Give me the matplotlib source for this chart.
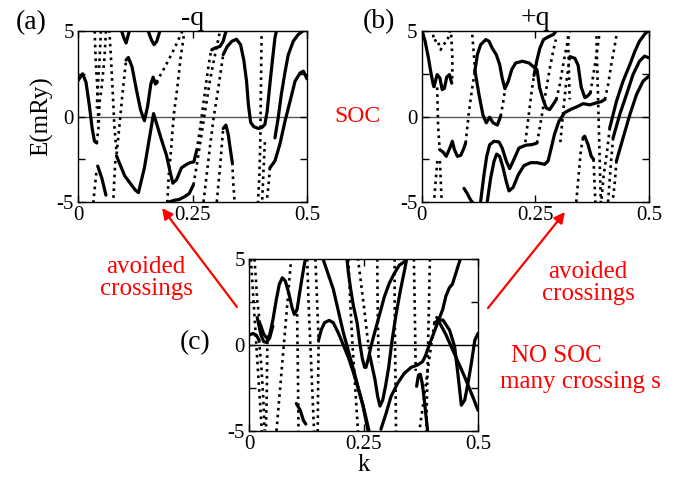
import matplotlib.pyplot as plt
from matplotlib.patches import FancyArrowPatch

plt.rcParams['font.family'] = ['Liberation Serif', 'DejaVu Serif']

W, H = 689, 478

# band traces, (k, E in mRy)
# panel (a): -q, with SOC
a_solid = [
    [(0, 2.1), (0.010, 2.5), (0.0175, 2.0), (0.025, 0.6), (0.031, -0.7), (0.036, -1.45), (0.041, -1.55)],
    [(0.043, -2.9), (0.052, -3.6), (0.061, -4.6)],
    [(0.094, 5.1), (0.100, 4.6), (0.105, 4.3), (0.110, 4.8), (0.113, 5.1)],
    [(0.105, 3.3), (0.110, 3.45), (0.118, 2.9), (0.128, 1.5), (0.137, 0.35), (0.145, -0.25), (0.152, 0.6),
     (0.159, 1.9), (0.164, 2.3), (0.169, 1.9), (0.173, 2.0)],
    [(0.152, 5.1), (0.160, 4.5), (0.166, 4.2), (0.172, 4.4), (0.180, 5.1)],
    [(0.084, -2.3), (0.102, -3.47), (0.125, -4.3), (0.132, -4.45), (0.145, -3.0), (0.156, -1.25), (0.165, 0.17),
     (0.172, -0.45), (0.181, -1.25), (0.188, -1.84), (0.193, -2.24), (0.200, -3.1), (0.207, -3.9), (0.215, -3.7),
     (0.226, -3.0), (0.237, -2.8), (0.2445, -2.7), (0.253, -2.65), (0.259, -2.0)],
    [(0.292, 3.9), (0.299, 4.0), (0.31, 4.1), (0.317, 4.4), (0.321, 4.8), (0.325, 5.1)],
    [(0.199, -5.0), (0.210, -4.9), (0.221, -4.85), (0.232, -4.7), (0.243, -4.5), (0.252, -4.0)],
    [(0.317, 3.62), (0.326, 4.1), (0.336, 4.4), (0.346, 4.52), (0.355, 4.2), (0.362, 3.3), (0.368, 2.07),
     (0.372, 0.7), (0.377, -0.35), (0.384, -0.6), (0.394, -0.7), (0.401, -0.65), (0.408, -0.47), (0.413, 0.3),
     (0.419, 1.9), (0.425, 3.4), (0.430, 4.6), (0.434, 5.1)],
    [(0.430, -1.25), (0.437, -0.1), (0.444, 1.3), (0.452, 2.6), (0.459, 3.6), (0.470, 4.4), (0.481, 4.8), (0.496, 5.1)],
    [(0.419, -3.0), (0.430, -2.6), (0.441, -1.6), (0.452, -0.27), (0.463, 0.89), (0.474, 2.07), (0.485, 2.55),
     (0.492, 2.65), (0.5, 2.2)],
    [(0.317, -0.7), (0.323, -0.5), (0.328, -1.05), (0.333, -2.0), (0.337, -2.7)],
]
a_dotted = [
    [(0.0364, 5.0), (0.0386, 3.3), (0.042, 1.8), (0.044, 0.2), (0.044, -0.6)],
    [(0.050, 5.0), (0.047, 3.3), (0.043, 1.6), (0.041, 0.5)],
    [(0.061, 5.0), (0.058, 3.5), (0.052, 1.8), (0.047, 0.8), (0.045, -0.6), (0.041, -1.5)],
    [(0.0684, 5.05), (0.072, 3.42), (0.0757, 1.5), (0.0793, -0.5), (0.0844, -2.2)],
    [(0.0844, -2.2), (0.090, -0.67), (0.097, 1.3), (0.105, 3.3)],
    [(0.0815, -2.6), (0.079, -3.8), (0.077, -5.0)],
    [(0.040, -3.3), (0.0365, -4.2), (0.0335, -5.0)],
    [(0.233, 5.1), (0.224, 3.4), (0.216, 1.5), (0.210, 0.3), (0.207, -0.6), (0.203, -2), (0.198, -3.5), (0.195, -5)],
    [(0.171, 2.0), (0.19, 2.9), (0.21, 3.95), (0.228, 5.0)],
    [(0.259, -2.0), (0.266, -0.8), (0.274, 0.8), (0.281, 2.2), (0.288, 3.5), (0.292, 3.9)],
    [(0.252, -4.0), (0.259, -2.9), (0.266, -1.7), (0.274, -0.3), (0.281, 0.9), (0.288, 2.1), (0.296, 3.2),
     (0.303, 4.1), (0.31, 5.0)],
    [(0.274, -5.0), (0.281, -3.4), (0.288, -1.8), (0.296, -0.1), (0.306, 1.6), (0.317, 3.62)],
    [(0.303, -5), (0.31, -3), (0.317, -0.7)],
    [(0.337, -2.7), (0.339, -3.9), (0.342, -5)],
    [(0.401, 5.1), (0.400, 2.9), (0.399, 0.9), (0.398, -1.5), (0.396, -3.5), (0.393, -5)],
    [(0.408, -1.5), (0.405, -3.2), (0.402, -5)],
    [(0.419, -3.0), (0.416, -4), (0.412, -5)],
]

# panel (b): +q, with SOC
b_solid = [
    [(0, 5.1), (0.0075, 4.4), (0.015, 3.4), (0.020, 2.6), (0.025, 1.9), (0.027, 1.75)],
    [(0.027, 1.75), (0.034, 2.45), (0.040, 2.25), (0.045, 1.57), (0.050, 1.65), (0.055, 2.3), (0.061, 2.45), (0.066, 1.95)],
    [(0.0395, -1.94), (0.047, -2.08), (0.054, -2.33), (0.062, -1.84), (0.0673, -1.45), (0.072, -1.94), (0.0785, -2.33),
     (0.086, -2.27), (0.093, -1.84), (0.0967, -1.55)],
    [(0.117, 2.65), (0.1224, 3.62), (0.1297, 4.2), (0.141, 4.5), (0.148, 4.4), (0.155, 4.0), (0.164, 3.62), (0.1715, 3.04),
     (0.177, 2.25), (0.183, 1.63), (0.1906, 2.07), (0.198, 2.74), (0.2067, 3.13), (0.2214, 3.23), (0.236, 3.13),
     (0.247, 2.88), (0.2536, 2.74), (0.2595, 1.67), (0.267, 0.99), (0.274, 0.5), (0.2815, 0.4), (0.289, 0.7), (0.296, 0.99)],
    [(0.1173, 2.65), (0.126, 1.28), (0.1348, 0.08), (0.142, -0.37), (0.1495, -0.04), (0.157, -0.37), (0.1664, -0.5),
     (0.1737, 0.02)],
    [(0.093, -4.2), (0.100, -4.5), (0.108, -4.9), (0.115, -5.1)],
    [(0.1297, -4.96), (0.137, -3.4), (0.143, -2.33), (0.1495, -1.65), (0.159, -1.45), (0.170, -1.49), (0.177, -1.84),
     (0.186, -2.6), (0.1935, -3.05), (0.203, -2.5), (0.214, -1.84), (0.2287, -1.68), (0.2434, -1.64), (0.2536, -1.55)],
    [(0.1443, -4.96), (0.1517, -3.6), (0.159, -2.63), (0.1649, -2.2), (0.1715, -2.33), (0.179, -3.0), (0.186, -3.8),
     (0.192, -4.35), (0.201, -4.15), (0.2126, -3.4), (0.225, -2.87), (0.2397, -2.7), (0.2536, -2.7), (0.2705, -2.8),
     (0.278, -2.6), (0.285, -1.84), (0.292, -1.05), (0.302, -0.27), (0.3146, 0.23), (0.329, 0.43), (0.344, 0.6),
     (0.355, 0.75), (0.37, 0.68), (0.384, 0.8), (0.395, 0.87), (0.403, 1.0)],
    [(0.247, 2.4), (0.2535, 3.3), (0.26, 4.0), (0.268, 4.5), (0.278, 4.65), (0.29, 4.8), (0.298, 5.1)],
    [(0.326, 3.5), (0.337, 3.4), (0.344, 3.0), (0.351, 1.7), (0.359, 1.1), (0.365, 1.2), (0.371, 1.38)],
    [(0.355, -1.25), (0.3585, -1.15), (0.366, -1.65), (0.373, -2.33), (0.378, -2.5)],
    [(0.4137, -0.67), (0.4284, 0.89), (0.443, 2.07), (0.458, 3.04), (0.469, 3.82), (0.479, 4.4), (0.49, 4.79), (0.498, 5.0)],
    [(0.421, -1.25), (0.4357, 0.12), (0.4504, 1.28), (0.465, 2.46), (0.479, 3.23), (0.49, 3.53), (0.5, 3.43)],
    [(0.4284, -2.6), (0.443, -1.25), (0.458, 0.12), (0.4725, 1.28), (0.487, 2.07), (0.5, 2.36)],
]
b_dotted = [
    [(0.0234, 5.18), (0.027, 4.4), (0.0344, 4.5), (0.0417, 3.9), (0.047, 4.2), (0.0564, 4.4), (0.0637, 5.18)],
    [(0.034, 1.7), (0.036, -0.5), (0.0395, -1.94)],
    [(0.040, -2.6), (0.042, -3.8), (0.044, -5.0)],
    [(0.0344, -2.6), (0.027, -5.0)],
    [(0.064, 5.18), (0.0674, 3.5), (0.0674, 2.5), (0.066, 1.95)],
    [(0.0967, -1.55), (0.104, 0.3), (0.111, 1.67), (0.117, 2.65)],
    [(0.110, 5.18), (0.113, 4.2), (0.116, 3.2), (0.117, 2.65)],
    [(0.1737, 0.02), (0.179, 0.8), (0.183, 1.5)],
    [(0.228, -1.5), (0.235, 0), (0.242, 1.5), (0.247, 2.4)],
    [(0.2536, -1.55), (0.26, -0.6), (0.267, 0.5), (0.274, 1.6), (0.281, 2.7), (0.289, 3.8), (0.295, 4.5)],
    [(0.296, 0.99), (0.304, 1.9), (0.311, 3.0), (0.318, 4.0), (0.326, 5.0)],
    [(0.305, -1.5), (0.312, 0.5), (0.318, 2.0), (0.326, 3.5)],
    [(0.371, 1.38), (0.378, 2.5), (0.385, 3.7), (0.392, 5.0)],
    [(0.34, -5), (0.345, -3.5), (0.35, -2), (0.355, -1.25)],
    [(0.378, -2.5), (0.38, -3.8), (0.382, -5)],
    [(0.403, 1.0), (0.41, 1.86), (0.417, 3.04), (0.425, 4.2), (0.43, 5.0)],
    [(0.3215, 5.1), (0.3235, 3.0), (0.3255, 1.0)],
    [(0.384, 5.1), (0.386, 3.0), (0.388, 1.0), (0.39, -1), (0.392, -3), (0.394, -5)],
    [(0.4137, -0.67), (0.408, -2), (0.40, -3.5), (0.395, -5)],
    [(0.421, -1.25), (0.416, -2.8), (0.41, -5)],
    [(0.4284, -2.6), (0.425, -3.8), (0.42, -5)],
]

# panel (c): no SOC
c_solid = [
    [(0, 0.57), (0.0087, 0.67), (0.016, 0.57), (0.022, 0.28)],
    [(0.0247, 1.2), (0.032, 0.64), (0.0393, 0.39), (0.045, 0.56), (0.0524, 1.49), (0.0597, 2.65), (0.0662, 3.53),
     (0.0728, 3.91), (0.0793, 3.72), (0.0866, 3.04), (0.094, 2.17), (0.099, 1.78), (0.105, 2.07), (0.1106, 3.04),
     (0.1165, 4.01), (0.1215, 4.79), (0.124, 5.08)],
    [(0.018, 1.6), (0.026, 0.6), (0.032, 0.2), (0.038, 0.15), (0.045, 0.4), (0.052, 1.1)],
    [(0.1034, -3.4), (0.112, -3.8), (0.119, -4.4), (0.124, -4.6)],
    [(0.152, 0.3), (0.158, 0.9), (0.165, 1.3), (0.175, 1.43), (0.184, 1.3), (0.195, 0.7), (0.206, 0.0),
     (0.218, -0.8), (0.228, -1.6), (0.238, -2.5), (0.248, -3.4), (0.256, -4.3), (0.262, -5.0)],
    [(0.1616, 5.0), (0.184, 3.25), (0.206, 0.72), (0.228, -1.41), (0.249, -3.55), (0.26, -5.0)],
    [(0.2137, 5.08), (0.217, 4.2), (0.222, 3.24), (0.228, 2.27), (0.236, 1.3), (0.242, 0.1), (0.2475, -0.8),
     (0.2525, -1.3), (0.2554, -1.3), (0.2605, -0.8), (0.266, -0.12), (0.2736, 0.65), (0.2845, 1.72), (0.2954, 2.79),
     (0.306, 3.57), (0.317, 4.15), (0.3282, 4.64), (0.3392, 4.84), (0.35, 5.2)],
    [(0.264, -0.64), (0.275, -2.0), (0.281, -3.0), (0.286, -3.55), (0.292, -3.2), (0.298, -2.4), (0.305, -1.3),
     (0.312, 0.2), (0.32, 1.6), (0.33, 3.1), (0.34, 4.4), (0.345, 5.1)],
    [(0.288, -4.9), (0.299, -4.0), (0.31, -3.0), (0.325, -2.2), (0.339, -1.65), (0.354, -1.3), (0.368, -1.16),
     (0.379, -0.97), (0.386, -0.58), (0.394, 0.04), (0.401, 0.52), (0.412, 1.3), (0.423, 2.07), (0.430, 2.85),
     (0.4375, 3.33), (0.444, 3.53), (0.452, 4.2), (0.459, 4.8), (0.463, 5.1)],
    [(0.405, 1.3), (0.416, 1.45), (0.4236, 1.45), (0.438, 0.86), (0.449, -0.1), (0.456, -1.66), (0.4636, -3.5),
     (0.471, -3.2), (0.478, -2.24), (0.4854, -1.08), (0.493, 0.28), (0.5, 0.67)],
    [(0.41, 1.6), (0.43, 0.6), (0.45, -0.6), (0.47, -1.8), (0.49, -3.1), (0.5, -3.8)],
    [(0.366, -2.4), (0.370, -1.75), (0.374, -1.7), (0.378, -2.2), (0.382, -3.0), (0.386, -4.0), (0.39, -5)],
]
c_dotted = [
    [(0.004, 5), (0.010, 2.5), (0.016, 0), (0.022, -2.5), (0.028, -5)],
    [(0.012, 5), (0.018, 2.6), (0.024, 1.2)],
    [(0.022, 0.28), (0.027, -1.27), (0.031, -3.0), (0.034, -4.96)],
    [(0.040, 0.2), (0.039, -2.5), (0.037, -5)],
    [(0.06, -5), (0.068, -2.5), (0.076, 0), (0.084, 2.5), (0.092, 5)],
    [(0.105, 1.8), (0.106, 0), (0.107, -2), (0.108, -5)],
    [(0.127, 5), (0.130, 2.5), (0.134, 0), (0.138, -2.5), (0.142, -5)],
    [(0.152, 0.3), (0.151, -2), (0.150, -5)],
    [(0.145, 5), (0.148, 3), (0.152, 0.3)],
    [(0.264, -0.64), (0.258, 0.6), (0.252, 2), (0.245, 3.5), (0.238, 5)],
    [(0.405, 1.3), (0.398, 0), (0.39, -1.5), (0.38, -3.5), (0.372, -5)],
    [(0.318, 5), (0.318, 2.5), (0.319, 0), (0.32, -2.5), (0.321, -5)],
    [(0.395, 5), (0.393, 2.5), (0.391, 0), (0.389, -2.5), (0.387, -5)],
    [(0.217, 5), (0.221, 2.5), (0.226, 0), (0.232, -2.5), (0.238, -5)],
    [(0.28, 5), (0.281, 2), (0.283, -1)],
    [(0.36, 5), (0.362, 2), (0.364, -1.5)],
]

x_ticks = [0, 0.25, 0.5]
x_labels = ['0', '0.25', '0.5']
y_ticks = [-5, 0, 5]
y_labels = ['-5', '0', '5']


def px_box(x0, y0, x1, y1):
    return [x0 / W, 1 - y1 / H, (x1 - x0) / W, (y1 - y0) / H]


def fx(x):
    return x / W


def fy(y):
    return 1 - y / H


fig = plt.figure(figsize=(W / 100, H / 100), dpi=100)


def draw_panel(box, solid, dotted, zero_color):
    ax = fig.add_axes(box)
    ax.axhline(0, color=zero_color, lw=1.0, zorder=1)
    for band in dotted:
        k, e = zip(*band)
        ax.plot(k, e, color='black', lw=1.9, linestyle=(0, (1, 1.6)), dash_capstyle='butt', zorder=2)
    for band in solid:
        k, e = zip(*band)
        ax.plot(k, e, color='black', lw=2.3, solid_capstyle='round', solid_joinstyle='round', zorder=3)
    ax.set_xlim(0, 0.5)
    ax.set_ylim(-5, 5)
    ax.set_xticks(x_ticks)
    ax.set_xticklabels(x_labels)
    ax.set_yticks(y_ticks)
    ax.set_yticklabels(y_labels)
    ax.set_yticks([-2.5, 2.5], minor=True)
    ax.tick_params(which='both', direction='in', top=True, right=True, length=5, width=1,
                   labelsize=15, pad=3)
    for s in ax.spines.values():
        s.set_linewidth(1)
    return ax


ax_a = draw_panel(px_box(78, 31, 307, 202), a_solid, a_dotted, '#555555')
ax_b = draw_panel(px_box(421.7, 31, 649, 202), b_solid, b_dotted, '#555555')
ax_c = draw_panel(px_box(249, 259, 478, 431), c_solid, c_dotted, 'black')

ax_a.set_title('-q', fontsize=20, pad=3)
ax_b.set_title('+q', fontsize=20, pad=3)
ax_a.set_ylabel('E(mRy)', fontsize=18, labelpad=2)
ax_c.set_xlabel('k', fontsize=18, labelpad=0)

fig.text(fx(31), fy(23), '(a)', fontsize=20, ha='center', va='center')
fig.text(fx(379), fy(22), '(b)', fontsize=20, ha='center', va='center')
fig.text(fx(195), fy(343), '(c)', fontsize=20, ha='center', va='center')

red = '#ff0000'
fig.text(fx(357), fy(117), 'SOC', fontsize=17, color=red, ha='center', va='center')
fig.text(fx(146), fy(278), 'avoided\ncrossings', fontsize=18, color=red, ha='center', va='center',
         linespacing=0.95)
fig.text(fx(588), fy(283), 'avoided\ncrossings', fontsize=18, color=red, ha='center', va='center',
         linespacing=0.95)
fig.text(fx(556), fy(356), 'NO SOC', fontsize=18, color=red, ha='center', va='center')
fig.text(fx(580), fy(382), 'many crossing s', fontsize=18, color=red, ha='center', va='center')

for start, end in [((237, 307), (162, 208)), ((488, 308), (565, 212))]:
    arrow = FancyArrowPatch((fx(start[0]), fy(start[1])), (fx(end[0]), fy(end[1])),
                            transform=fig.transFigure, arrowstyle='-|>', mutation_scale=16,
                            color=red, lw=1.6, shrinkA=0, shrinkB=0)
    fig.add_artist(arrow)

fig.savefig('out.png', dpi=100)
